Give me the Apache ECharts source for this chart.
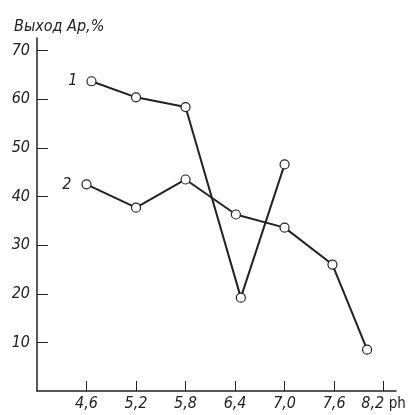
<!DOCTYPE html>
<html><head><meta charset="utf-8">
<script src="https://cdn.jsdelivr.net/npm/echarts@6/dist/echarts.min.js"></script>
<style>html,body{margin:0;padding:0;background:#fff}#c{width:410px;height:415px}</style>
</head><body><div id="c"></div>
<script>
var yTitle = 'Выход Ар,%';
var xUnit = 'ph';
var xTicks = [4.6, 5.2, 5.8, 6.4, 7.0, 7.6, 8.2];
var yTicks = [10, 20, 30, 40, 50, 60, 70];
var series1Name = '1';
var series1X = [4.66, 5.2, 5.8, 6.47, 7.0];
var series1Y = [63.7, 60.4, 58.4, 19.2, 46.6];
var series2Name = '2';
var series2X = [4.6, 5.2, 5.8, 6.41, 7.0, 7.58, 8.0];
var series2Y = [42.5, 37.7, 43.5, 36.3, 33.6, 26.0, 8.5];

var FONT = "'Liberation Sans Narrow', 'DejaVu Sans Condensed', 'DejaVu Sans', sans-serif";
var INK = '#222';
function pairs(xs, ys){ return xs.map(function(x,i){ return [x, ys[i]]; }); }
function fmt(v){ return v.toFixed(1).replace('.', ','); }

var chart = echarts.init(document.getElementById('c'));
chart.setOption({
  animation: false,
  backgroundColor: '#fff',
  title: {
    text: yTitle, left: 9, top: 14,
    textStyle: { fontFamily: FONT, fontStyle: 'italic', fontWeight: 'normal', fontSize: 16, color: INK }
  },
  grid: { left: 37, right: 14, top: 38, bottom: 24 },
  xAxis: {
    type: 'value', min: 4.0, max: 8.35,
    splitLine: { show: false },
    axisLine: { lineStyle: { color: INK, width: 1.5 } },
    axisTick: { inside: true, length: 10, lineStyle: { color: INK, width: 1 }, customValues: xTicks },
    axisLabel: {
      customValues: xTicks, margin: 5,
      fontFamily: FONT, fontStyle: 'italic', fontSize: 16, color: INK,
      formatter: function(v){ var s = fmt(v); return Math.abs(v - xTicks[xTicks.length-1]) < 1e-6 ? s + ' {u|' + xUnit + '}' : s; },
      rich: { u: { fontFamily: FONT, fontStyle: 'normal', fontSize: 15, color: INK } }
    }
  },
  yAxis: {
    type: 'value', min: 0, max: 72.6,
    splitLine: { show: false },
    axisLine: { lineStyle: { color: INK, width: 1.5 } },
    axisTick: { inside: true, length: 11, lineStyle: { color: INK, width: 1 }, customValues: yTicks },
    axisLabel: {
      customValues: yTicks, margin: 7,
      fontFamily: FONT, fontStyle: 'italic', fontSize: 16, color: INK
    }
  },
  series: [
    {
      name: series1Name, type: 'line', data: pairs(series1X, series1Y),
      symbol: 'circle', symbolSize: 9,
      itemStyle: { color: '#fff', borderColor: INK, borderWidth: 1.2 },
      lineStyle: { color: INK, width: 2 },
      label: {
        show: true, position: 'left', distance: 9,
        fontFamily: FONT, fontStyle: 'italic', fontSize: 16, color: INK,
        formatter: function(p){ return p.dataIndex === 0 ? p.seriesName : ''; }
      }
    },
    {
      name: series2Name, type: 'line', data: pairs(series2X, series2Y),
      symbol: 'circle', symbolSize: 9,
      itemStyle: { color: '#fff', borderColor: INK, borderWidth: 1.2 },
      lineStyle: { color: INK, width: 2 },
      label: {
        show: true, position: 'left', distance: 10,
        fontFamily: FONT, fontStyle: 'italic', fontSize: 16, color: INK,
        formatter: function(p){ return p.dataIndex === 0 ? p.seriesName : ''; }
      }
    }
  ]
});
</script></body></html>
